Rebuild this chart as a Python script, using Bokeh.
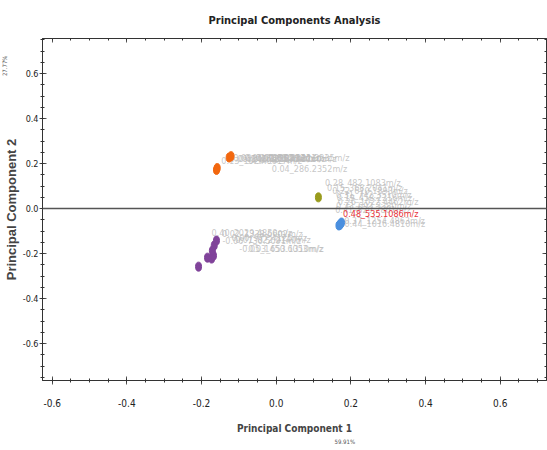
from bokeh.plotting import figure
from bokeh.models import (ColumnDataSource, Range1d, LinearAxis, SingleIntervalTicker,
                          NumeralTickFormatter, CustomJSTickFormatter, Span, Title)
from bokeh.core.properties import value
from bokeh.embed import file_html
from bokeh.resources import INLINE

# ---- data ----
group = ["orange", "orange", "orange", "orange",
         "olive",
         "blue", "blue", "blue", "blue",
         "purple", "purple", "purple", "purple", "purple", "purple", "purple"]
pc1 = [-0.126, -0.121, -0.160, -0.158,
       0.113,
       0.168, 0.172, 0.175, 0.171,
       -0.208, -0.184, -0.173, -0.168, -0.171, -0.166, -0.160]
pc2 = [0.227, 0.233, 0.172, 0.180,
       0.050,
       -0.075, -0.068, -0.062, -0.072,
       -0.258, -0.218, -0.222, -0.209, -0.187, -0.164, -0.142]
group_colors = {"orange": "#f2670f", "olive": "#999b1c", "blue": "#4a8fdf", "purple": "#80439a"}

load_x = [-0.147, -0.125, -0.115, -0.100, -0.085, -0.070, -0.055, -0.040, -0.020, -0.012,
          0.131, 0.136, 0.150, 0.160, 0.162, 0.165, 0.160, 0.158, 0.182, 0.183,
          -0.173, -0.145, -0.144, -0.110, -0.120, -0.099, -0.075]
load_y = [0.213, 0.222, 0.225, 0.222, 0.224, 0.221, 0.225, 0.222, 0.226, 0.178,
          0.115, 0.093, 0.080, 0.062, 0.045, 0.030, 0.012, -0.008, -0.053, -0.070,
          -0.107, -0.113, -0.142, -0.140, -0.130, -0.178, -0.180]
load_text = ["0.13_1024.0617m/z", "0.09_848.3318m/z", "0.08_612.2905m/z", "0.11_760.5093m/z",
             "0.06_430.2212m/z", "0.10_901.4400m/z", "0.07_552.3021m/z", "0.12_675.1160m/z",
             "0.05_3121.3235m/z", "0.04_286.2352m/z",
             "0.28_482.1083m/z", "0.15_368.2041m/z", "0.22_610.1893m/z", "0.31_742.3510m/z",
             "0.19_458.2216m/z", "0.26_1022.4462m/z", "0.33_693.3380m/z", "0.41_829.2801m/z",
             "0.37_1254.4863m/z", "0.44_1016.4810m/z",
             "0.40_2029.4850m/z", "0.02_1338.6602m/z", "-0.06_730.5091m/z", "0.01_822.2140m/z",
             "0.00_977.4125m/z", "-0.05_1450.6053m/z", "0.03_653.1310m/z"]

hl_x = [0.179]
hl_y = [-0.022]
hl_text = ["0.48_535.1086m/z"]

pc1_pct = "59.91%"
pc2_pct = "27.77%"

NARROW = "DejaVu Sans Condensed"

p = figure(width=547, height=450, output_backend="svg", toolbar_location=None,
           x_range=Range1d(-0.626, 0.724), y_range=Range1d(-0.764, 0.756),
           title="Principal Components Analysis",
           min_border_left=30, min_border_right=1, min_border_top=38, min_border_bottom=70)
p.background_fill_color = "white"
p.border_fill_color = "white"
p.outline_line_color = "#333333"
p.xgrid.visible = False
p.ygrid.visible = False

p.title.align = "center"
p.title.text_font = NARROW
p.title.text_font_size = "11px"
p.title.text_font_style = "bold"
p.title.text_color = "#222222"
p.title.standoff = 23

def style_axis(ax, show_labels=True):
    ax.ticker = SingleIntervalTicker(interval=0.2, num_minor_ticks=4)
    ax.axis_line_color = "#333333"
    ax.major_tick_line_color = "#555555"
    ax.minor_tick_line_color = "#333333"
    ax.major_tick_in = 4
    ax.major_tick_out = 4
    ax.minor_tick_in = 2
    ax.minor_tick_out = 2
    ax.major_label_text_font = NARROW
    ax.major_label_text_font_size = "10px"
    ax.major_label_text_color = "#222222"
    if show_labels:
        ax.formatter = NumeralTickFormatter(format="0.0")
    else:
        ax.formatter = CustomJSTickFormatter(code="return ''")
        ax.major_tick_out = 0
        ax.minor_tick_out = 0
        ax.major_label_standoff = 0

style_axis(p.xaxis[0])
style_axis(p.yaxis[0])
p.xaxis.axis_label = "Principal Component 1"
p.xaxis.axis_label_text_font = NARROW
p.xaxis.axis_label_text_font_size = "10px"
p.xaxis.axis_label_text_font_style = "bold"
p.xaxis.axis_label_standoff = 13
p.xaxis.major_label_standoff = 14
p.yaxis.axis_label = "Principal Component 2"
p.yaxis.axis_label_text_font = "Liberation Sans"
p.yaxis.axis_label_text_font_size = "13px"
p.yaxis.axis_label_text_font_style = "bold"
p.yaxis.axis_label_standoff = 1
p.yaxis.major_label_standoff = 1
p.yaxis.major_label_text_font_size = "9px"
p.yaxis.major_tick_out = 3

top_ax = LinearAxis()
right_ax = LinearAxis()
style_axis(top_ax, show_labels=False)
style_axis(right_ax, show_labels=False)
p.add_layout(top_ax, "above")
p.add_layout(right_ax, "right")

# explained-variance captions next to the axis titles
p.add_layout(Title(text=pc1_pct, text_font=NARROW, text_font_size="6px", text_font_style="normal",
                   text_color="#555555", align="left", offset=292, standoff=-16), "below")
p.add_layout(Title(text=pc2_pct, text_font=NARROW, text_font_size="6px", text_font_style="normal",
                   text_color="#555555", align="right", offset=17, standoff=-14), "left")

p.add_layout(Span(location=0, dimension="width", line_color="#555555", line_width=1.5))

# loadings labels
lsrc = ColumnDataSource(dict(x=load_x, y=load_y, t=load_text))
p.text(x="x", y="y", text="t", source=lsrc, text_font=value(NARROW), text_font_size="9px",
       text_color="#bcbcbc", text_alpha=0.85, text_baseline="middle", text_align="left")

# scores
ssrc = ColumnDataSource(dict(x=pc1, y=pc2, c=[group_colors[g] for g in group]))
p.ellipse(x="x", y="y", width=6, height=9, width_units="screen", height_units="screen",
          source=ssrc, fill_color="c", line_color="c")

hsrc = ColumnDataSource(dict(x=hl_x, y=hl_y, t=hl_text))
p.text(x="x", y="y", text="t", source=hsrc, text_font=value(NARROW), text_font_size="9px",
       text_color="#e8333a", text_baseline="middle", text_align="left")

open("out.html", "w").write(file_html(p, INLINE))
